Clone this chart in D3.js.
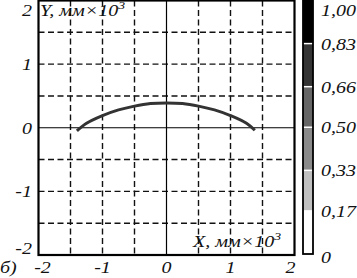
<!DOCTYPE html>
<html><head><meta charset="utf-8">
<script src="https://cdn.jsdelivr.net/npm/d3@7"></script>
<style>html,body{margin:0;padding:0;background:#fff;}svg{display:block;}
text{font-family:"Liberation Serif","Times New Roman",serif;font-style:italic;}</style>
</head><body>
<svg id="c" width="357" height="278"></svg>
<script>
const curveX = [-1.40,-1.25,-1.0,-0.75,-0.5,-0.25,0,0.25,0.5,0.75,1.0,1.25,1.38];
const curveY = [-0.05,0.07,0.19,0.28,0.34,0.38,0.39,0.38,0.34,0.28,0.19,0.07,-0.04];
const xTicks = [-2,-1,0,1,2];
const yTicks = [-2,-1,0,1,2];
const gridVals = [-1.5,-1,-0.5,0.5,1,1.5];
const cbBreaks = [0,0.17,0.33,0.50,0.66,0.83,1.00];
const cbLabels = ["0","0,17","0,33","0,50","0,66","0,83","1,00"];
const cbColors = ["#ffffff","#c0c0c0","#8a8a8a","#666666","#343434","#000000"];

const svg = d3.select("#c");
const x = d3.scaleLinear().domain([-2,2]).range([38.5,294.5]);
const y = d3.scaleLinear().domain([-2,2]).range([255,0.5]);
const SX = 1.25;

function label(parent, px, py, anchor, str, size){
  const t = parent.append("g").attr("transform",`translate(${px},${py}) scale(${SX},1)`)
    .append("text").attr("text-anchor",anchor).attr("font-size",size||16).attr("fill","#111");
  return t.text(str);
}

// grid
const g = svg.append("g");
g.selectAll(".gv").data(gridVals).enter().append("line")
  .attr("x1",d=>x(d)).attr("x2",d=>x(d)).attr("y1",y(2)).attr("y2",y(-2))
  .attr("stroke","#111").attr("stroke-width",1.4).attr("stroke-dasharray","6,3.5");
g.selectAll(".gh").data(gridVals).enter().append("line")
  .attr("y1",d=>y(d)).attr("y2",d=>y(d)).attr("x1",x(-2)).attr("x2",x(2))
  .attr("stroke","#111").attr("stroke-width",1.4).attr("stroke-dasharray","6,3.5");
g.append("line").attr("x1",x(0)).attr("x2",x(0)).attr("y1",y(2)).attr("y2",y(-2))
  .attr("stroke","#000").attr("stroke-width",1.2);
g.append("line").attr("y1",y(0)).attr("y2",y(0)).attr("x1",x(-2)).attr("x2",x(2))
  .attr("stroke","#000").attr("stroke-width",1.2);

// curve
const line = d3.line().x(d=>x(d[0])).y(d=>y(d[1])).curve(d3.curveCatmullRom);
svg.append("path").datum(curveX.map((v,i)=>[v,curveY[i]]))
  .attr("d",line).attr("fill","none").attr("stroke","#333").attr("stroke-width",3);

// border
svg.append("rect").attr("x",x(-2)).attr("y",y(2)).attr("width",x(2)-x(-2)).attr("height",y(-2)-y(2))
  .attr("fill","none").attr("stroke","#000").attr("stroke-width",2.2);

// tick labels
const xLab = svg.append("g");
xTicks.forEach(d=>label(xLab, x(d)+(d===2?-4:(d===-2?4:0)), 273, "middle", String(d)));
const yLab = svg.append("g");
yTicks.forEach(d=>label(yLab, 32, y(d)+6+(d===2?9:(d===-2?-7:0)), "end", String(d)));

label(svg, 0, 273, "start", "б)");

// axis titles
const yt = label(svg, 40, 16, "start", "");
yt.append("tspan").text("Y, мм×10");
yt.append("tspan").attr("dy",-7).attr("font-size",11).text("3");
const xt = label(svg, 193, 247, "start", "");
xt.append("tspan").text("X, мм×10");
xt.append("tspan").attr("dy",-7).attr("font-size",11).text("3");

// colorbar
const cy = d3.scaleLinear().domain([0,1]).range([254,0.5]);
const cb = svg.append("g");
cbColors.forEach((c,i)=>{
  cb.append("rect").attr("x",303).attr("width",10)
    .attr("y",cy(cbBreaks[i+1])).attr("height",cy(cbBreaks[i])-cy(cbBreaks[i+1]))
    .attr("fill",c).attr("stroke","none");
});
cb.selectAll("line").data(cbBreaks.slice(1,-1)).enter().append("line")
  .attr("x1",303).attr("x2",313).attr("y1",d=>cy(d)).attr("y2",d=>cy(d))
  .attr("stroke","#fff").attr("stroke-width",1.5);
cb.append("rect").attr("x",303).attr("y",cy(1)).attr("width",10).attr("height",cy(0)-cy(1))
  .attr("fill","none").attr("stroke","#000").attr("stroke-width",1.8);
const cbLab = svg.append("g");
cbBreaks.forEach((d,i)=>label(cbLab, 321, cy(d)+6+(i===6?9:(i===0?3:0)), "start", cbLabels[i]));
</script>
</body></html>
